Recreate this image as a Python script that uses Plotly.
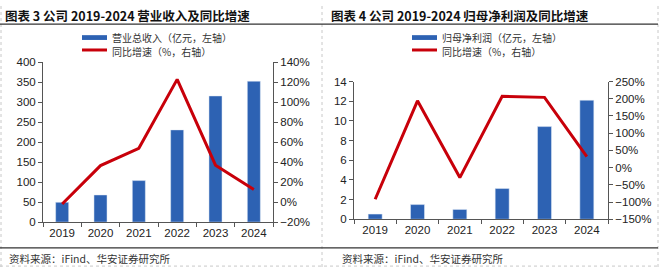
import plotly.graph_objects as go

years = ["2019", "2020", "2021", "2022", "2023", "2024"]
revenue = [49.6, 68, 104, 231, 316, 353]
revenue_yoy = [-1.8, 36.6, 54, 123, 37, 12.6]
profit = [0.52, 1.49, 1.0, 3.12, 9.42, 12.1]
profit_yoy = [-92, 194, -29, 207, 204, 32]

title_left = "图表 3 公司 2019-2024 营业收入及同比增速"
title_right = "图表 4 公司 2019-2024 归母净利润及同比增速"
legend_left = ["营业总收入（亿元，左轴）", "同比增速（%，右轴）"]
legend_right = ["归母净利润（亿元，左轴）", "同比增速（%，右轴）"]
source = "资料来源：iFind、华安证券研究所"

W, H = 660, 274
BLUE = "#2D62B3"
RED = "#C8000A"
AX = "#555555"
TXT = "#222222"
CJK = "Noto Sans CJK SC"
LAT = "Liberation Sans"

def px(x):
    return x / W

def py(y):
    return 1 - y / H

fig = go.Figure()

fig.add_trace(go.Bar(x=years, y=revenue, marker_color=BLUE, width=0.34,
                     xaxis="x", yaxis="y", showlegend=False))
fig.add_trace(go.Scatter(x=years, y=revenue_yoy, mode="lines",
                         line=dict(color=RED, width=3), xaxis="x", yaxis="y2",
                         showlegend=False))
fig.add_trace(go.Bar(x=years, y=profit, marker_color=BLUE, width=0.33,
                     xaxis="x2", yaxis="y3", showlegend=False))
fig.add_trace(go.Scatter(x=years, y=profit_yoy, mode="lines",
                         line=dict(color=RED, width=3), xaxis="x2", yaxis="y4",
                         showlegend=False))

tickfont = dict(family=LAT, size=11.5, color=TXT)
axcommon = dict(showline=True, linecolor=AX, linewidth=1, ticks="outside",
                ticklen=4, tickcolor=AX, showgrid=False, zeroline=False,
                tickfont=tickfont)

fig.update_layout(
    width=W, height=H,
    margin=dict(l=0, r=0, t=0, b=0),
    paper_bgcolor="white", plot_bgcolor="white",
    showlegend=False,
    xaxis=dict(domain=[px(43), px(273)], anchor="y", type="category",
               tickson="boundaries", **axcommon),
    yaxis=dict(domain=[py(226), py(59)], anchor="x", range=[0, 400],
               dtick=50, **axcommon),
    yaxis2=dict(overlaying="y", side="right", anchor="x", range=[-20, 140],
                dtick=20, ticksuffix="%", **axcommon),
    xaxis2=dict(domain=[px(354), px(608)], anchor="y3", type="category",
                tickson="boundaries", **axcommon),
    yaxis3=dict(domain=[py(223), py(79)], anchor="x2", range=[0, 14],
                dtick=2, **axcommon),
    yaxis4=dict(overlaying="y3", side="right", anchor="x2", range=[-150, 250],
                dtick=50, ticksuffix="%", **axcommon),
)

shapes = []
annotations = []

# frame: dotted borders and separator
for x0, y0, x1, y1 in [(1, 0, 1, 273), (658, 0, 658, 273), (322, 0, 322, 273),
                       (0, 272, 658, 272)]:
    shapes.append(dict(type="line", xref="paper", yref="paper",
                       x0=px(x0), y0=py(y0), x1=px(x1), y1=py(y1),
                       line=dict(color="#C8C8C8", width=1, dash="dot")))
# title underline and bottom line
for y in (19, 253):
    shapes.append(dict(type="line", xref="paper", yref="paper",
                       x0=px(0), y0=py(y), x1=px(658), y1=py(y),
                       line=dict(color="#333333", width=1.2)))

# titles
for x, t in [(3, title_left), (329, title_right)]:
    annotations.append(dict(text="<b>" + t + "</b>", xref="paper", yref="paper",
                            x=px(x), y=py(10), xanchor="left", yanchor="middle",
                            showarrow=False,
                            font=dict(family=CJK, size=12.5, color="#111111")))

# legends (manual)
for x0, labels in [(82, legend_left), (412, legend_right)]:
    shapes.append(dict(type="rect", xref="paper", yref="paper",
                       x0=px(x0), x1=px(x0 + 25), y0=py(35.5), y1=py(30.5),
                       line=dict(width=0), fillcolor=BLUE))
    shapes.append(dict(type="line", xref="paper", yref="paper",
                       x0=px(x0), x1=px(x0 + 25), y0=py(46), y1=py(46),
                       line=dict(color=RED, width=3)))
    for i, lab in enumerate(labels):
        annotations.append(dict(text=lab, xref="paper", yref="paper",
                                x=px(x0 + 28), y=py(32.5 + 15 * i),
                                xanchor="left", yanchor="middle",
                                showarrow=False,
                                font=dict(family=CJK, size=10, color="#333333")))

# sources
for x in (7, 340):
    annotations.append(dict(text=source, xref="paper", yref="paper",
                            x=px(x), y=py(264), xanchor="left", yanchor="middle",
                            showarrow=False,
                            font=dict(family=CJK, size=10.5, color="#333333")))

fig.update_layout(shapes=shapes, annotations=annotations)

fig.write_html("out.html")
